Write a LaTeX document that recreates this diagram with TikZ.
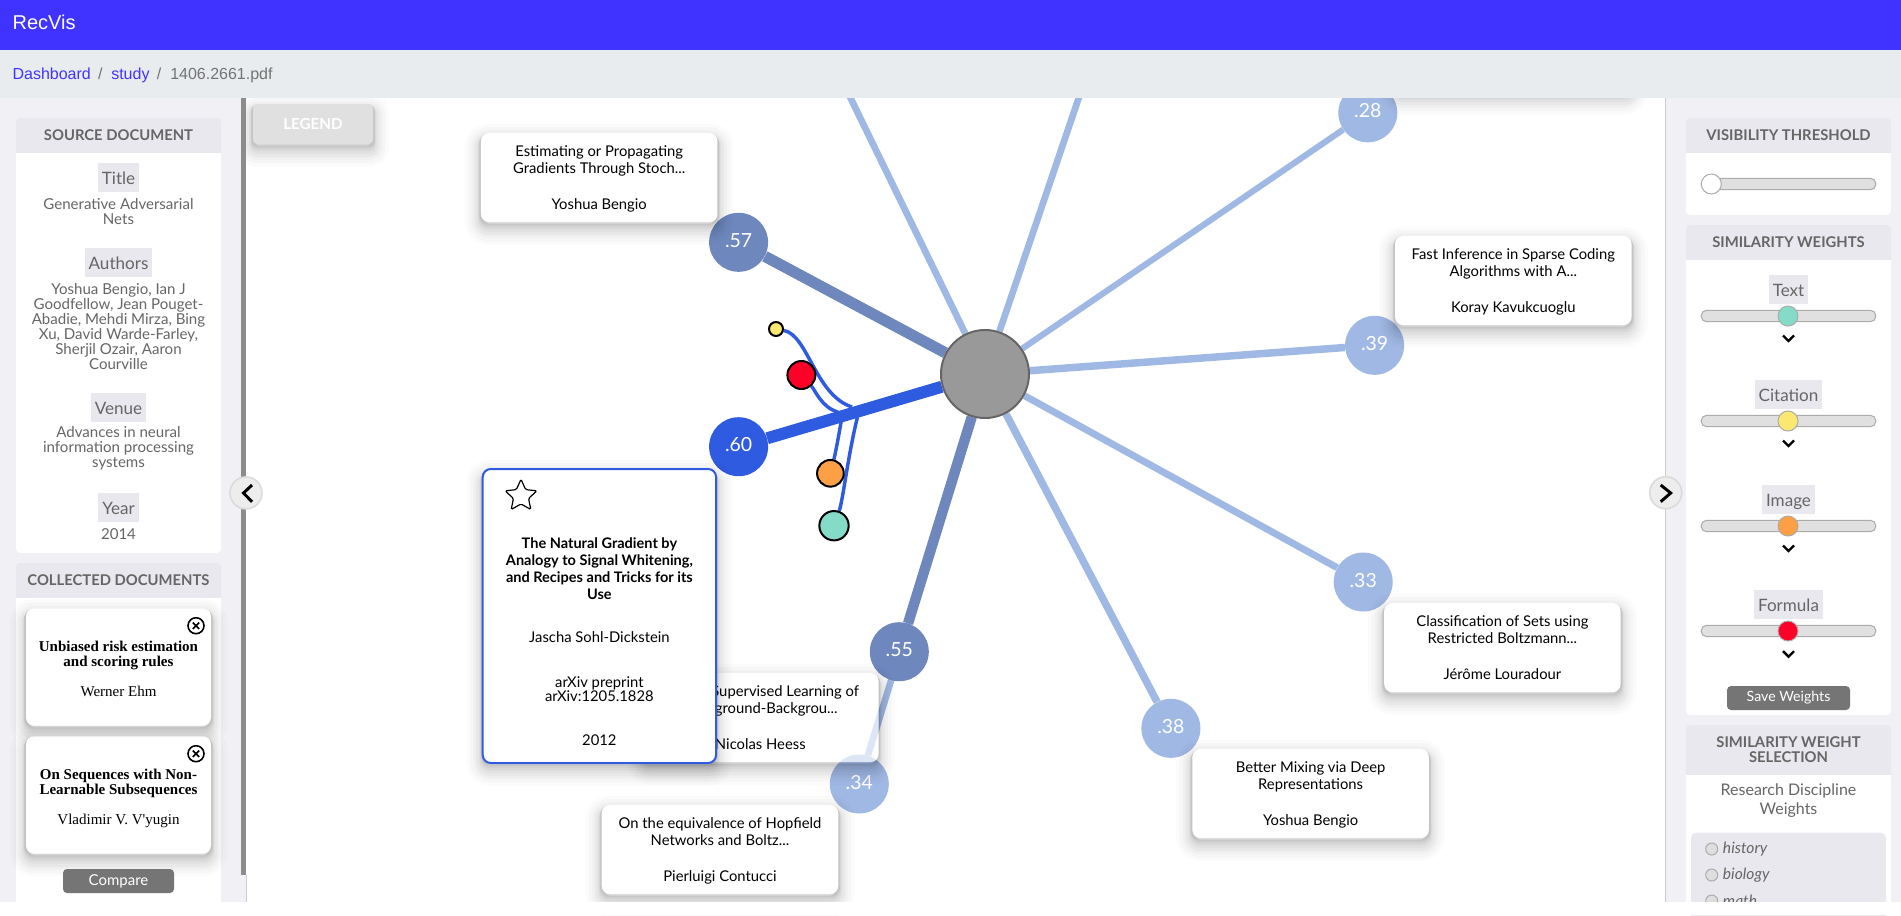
\documentclass[tikz,border=0pt]{standalone}
\usepackage{fontspec}
\setmainfont{Lato}
\newfontfamily\arialfont{Liberation Sans}
\newfontfamily\timesfont{Liberation Serif}
\usetikzlibrary{shapes.geometric,backgrounds}

\definecolor{barblue}{HTML}{4033FF}
\definecolor{crumbgray}{HTML}{E9ECEF}
\definecolor{panelgray}{HTML}{F0F0F5}
\definecolor{boxgray}{HTML}{E8E8EE}
\definecolor{inkgray}{HTML}{666666}
\definecolor{lightedge}{HTML}{A0B8E4}
\definecolor{midedge}{HTML}{6E88BE}
\definecolor{strongedge}{HTML}{2F5BE0}
\definecolor{tealdot}{HTML}{84DCC8}
\definecolor{yellowdot}{HTML}{FBE870}
\definecolor{orangedot}{HTML}{FD9F45}
\definecolor{reddot}{HTML}{FF0028}

\newcommand{\cardlines}[3]{\rule{0pt}{11.6pt}#1\\#2\\[14.25pt]#3\rule[-3pt]{0pt}{3pt}}

\tikzset{
  softshadow/.style={
    preaction={draw=black,draw opacity=.015,line width=24pt,transform canvas={yshift=-5pt}},
    preaction={draw=black,draw opacity=.02,line width=19pt,transform canvas={yshift=-5pt}},
    preaction={draw=black,draw opacity=.025,line width=14pt,transform canvas={yshift=-5pt}},
    preaction={draw=black,draw opacity=.03,line width=10pt,transform canvas={yshift=-5pt}},
    preaction={draw=black,draw opacity=.03,line width=6pt,transform canvas={yshift=-4.5pt}},
    preaction={draw=black,draw opacity=.04,line width=4pt,transform canvas={yshift=-3.5pt}},
    preaction={draw=black,draw opacity=.05,line width=3pt,transform canvas={yshift=-2pt}},
    preaction={draw=black,draw opacity=.05,line width=2pt,transform canvas={yshift=-1pt}}},
  card/.style={rectangle,rounded corners=6pt,fill=white,softshadow,minimum width=177.4pt,minimum height=66.75pt,inner sep=0pt,align=center,text=black,font=\fontsize{11.1pt}{12.75pt}\selectfont},
  score/.style={circle,minimum size=44.25pt,inner sep=0pt,text=white,text depth=3pt,font=\fontsize{14.6pt}{14.6pt}\selectfont},
  weightdot/.style={circle,draw=black,line width=1.5pt,inner sep=0pt},
  thin edge/.style={line width=5pt,lightedge},
  glyph edge/.style={line width=2.6pt,strongedge},
  panelcard/.style={rectangle,rounded corners=3pt,fill=white,minimum width=153.75pt,inner sep=0pt},
  headtext/.style={inner sep=0pt,align=center,text=inkgray,font=\fontsize{11.1pt}{11.25pt}\selectfont\bfseries},
  fieldlabel/.style={rectangle,fill=boxgray,inner xsep=3pt,inner ysep=0pt,minimum height=21.75pt,text height=11pt,text depth=.8pt,text=inkgray,font=\fontsize{12.8pt}{12.8pt}\selectfont},
  fieldtext/.style={inner sep=0pt,align=center,text=inkgray,font=\fontsize{11.3pt}{11.25pt}\selectfont},
  cardtext/.style={inner sep=0pt,font=\fontsize{11.1pt}{12.75pt}\selectfont},
  serifbold/.style={inner sep=0pt,align=center,font=\timesfont\fontsize{11.25pt}{11.25pt}\selectfont\bfseries},
  seriftext/.style={inner sep=0pt,font=\timesfont\fontsize{11.25pt}{11.25pt}\selectfont},
  crumbtext/.style={inner sep=0pt,text height=11pt,text depth=2.4pt,font=\arialfont\fontsize{12pt}{12pt}\selectfont},
  track/.style={rectangle,rounded corners=4pt,fill=black!12,draw=black!33,line width=.75pt,minimum width=131pt,minimum height=8.5pt,inner sep=0pt},
  knob/.style={circle,draw=black!33,line width=.75pt,minimum size=15pt,inner sep=0pt},
  graybtn/.style={rectangle,rounded corners=3pt,fill=black!54,inner sep=0pt,text=white},
  roundbtn/.style={circle,fill=black!7,draw=black!14,line width=1.2pt,minimum size=24pt,inner sep=0pt},
  radio/.style={circle,fill=black!13,draw=black!33,line width=.75pt,minimum size=9pt,inner sep=0pt},
  radiotext/.style={anchor=west,inner sep=0pt,text=inkgray,font=\fontsize{11.7pt}{11.7pt}\selectfont\itshape},
  chevdown/.pic={\draw[line width=1.8pt] (-5.5,-2.5) -- (0,3) -- (5.5,-2.5);},
  closeicon/.pic={\draw[line width=1.2pt] (0,0) circle (8);
    \draw[line width=1.2pt] (-3.2,-3.2) -- (3.2,3.2) (-3.2,3.2) -- (3.2,-3.2);},
}

\begin{document}
\begin{tikzpicture}[x=.75pt,y=-.75pt]
\useasboundingbox (0,0) rectangle (1901,915);

% Graph: hub and score circles
\node[circle,fill=black!40,draw=inkgray,line width=1.5pt,minimum size=66pt,inner sep=0pt] (hub) at (985,374) {};
\node[score,fill=midedge] (n57) at (738.6,242.3) {.57};
\node[score,fill=strongedge] (n60) at (738.6,446.7) {.60};
\node[score,fill=midedge] (n55) at (899.3,651.7) {.55};
\node[score,fill=lightedge] (n34) at (859.3,784) {.34};
\node[score,fill=lightedge] (n28) at (1367.8,112.8) {.28};
\node[score,fill=lightedge] (n39) at (1374.6,345.3) {.39};
\node[score,fill=lightedge] (n33) at (1363.2,582) {.33};
\node[score,fill=lightedge] (n38) at (1170.9,728.3) {.38};

% Small weight dots
\node[weightdot,fill=yellowdot,minimum size=10.5pt] (dotcite) at (776,329) {};
\node[weightdot,fill=reddot,minimum size=21pt] (dotform) at (801.4,375) {};
\node[weightdot,fill=orangedot,minimum size=20pt] (dotimg) at (830.4,473.3) {};
\node[weightdot,fill=tealdot,minimum size=22pt] (dottext) at (834,525.7) {};

\coordinate (topleft) at (832,60);    % goes under the breadcrumb bar
\coordinate (topright) at (1091.6,60);  % same
\coordinate (joincite) at (852,407);
\coordinate (joinform) at (838,412);
\coordinate (joinimg) at (841.4,420);
\coordinate (jointext) at (857.5,417);

% Edges sit behind the circles
\begin{scope}[on background layer]
\draw[thin edge] (hub) -- (topleft);
\draw[thin edge] (hub) -- (topright);
\draw[thin edge,line width=4.6pt] (hub) -- (n28);
\draw[thin edge,line width=5.6pt] (hub) -- (n39);
\draw[thin edge,line width=5.2pt] (hub) -- (n33);
\draw[thin edge,line width=5.6pt] (hub) -- (n38);
\draw[thin edge] (hub) -- (n34);
\draw[midedge,line width=8.4pt] (hub) -- (n57);
\draw[midedge,line width=7.8pt] (hub) -- (n55);
\draw[glyph edge] (dotcite) .. controls (808,335) and (815,395) .. (joincite);
\draw[glyph edge] (dotform) .. controls (815,390) and (822,408) .. (joinform);
\draw[glyph edge] (dotimg) .. controls (835,455) and (838,440) .. (joinimg);
\draw[glyph edge] (dottext) .. controls (843,500) and (848,455) .. (jointext);
\draw[strongedge,line width=9pt] (hub) -- (n60);
\end{scope}

% Document cards
\node[card] (cardtop) at (1513.5,47.5) {};
\node[card] (cardest) at (599.2,177.5) {\cardlines{Estimating or Propagating}{Gradients Through Stoch...}{Yoshua Bengio}};
\node[card] (cardfast) at (1513.3,280.5) {\cardlines{Fast Inference in Sparse Coding}{Algorithms with A...}{Koray Kavukcuoglu}};
\node[card] (cardclass) at (1502.4,647.5) {\cardlines{Classification of Sets using}{Restricted Boltzmann...}{Jérôme Louradour}};
\node[card] (cardmix) at (1310.6,793.5) {\cardlines{Better Mixing via Deep}{Representations}{Yoshua Bengio}};
\node[card] (cardhop) at (720,849.5) {\cardlines{On the equivalence of Hopfield}{Networks and Boltz...}{Pierluigi Contucci}};
\node[card] (cardheess) at (760.3,717.5) {};
\begin{scope}
\clip[rounded corners=6pt] (cardheess.north west) rectangle (cardheess.south east);
\draw[lightedge,opacity=.35,line width=5pt] (n55) -- (n34); % edge shows faintly through the card
\fill[lightedge,opacity=.35] (n34.center) circle (29.5);
\end{scope}
\node[cardtext,anchor=east] (heessa) at (859.3,692) {Supervised Learning of};
\node[cardtext,anchor=east] (heessb) at (837.9,709) {ground-Backgrou...};
\node[cardtext] (heessc) at (760.3,744) {Nicolas Heess};

% Selected card
\node[card,draw=strongedge,line width=1.5pt,minimum width=175pt,minimum height=220.5pt] (cardnat) at (599.4,616) {};
\node[star,star points=5,star point ratio=2.1,draw=black,line width=.9pt,rounded corners=1pt,minimum size=25pt,inner sep=0pt] (favstar) at (521,496) {};
\node[inner sep=0pt,align=center,font=\fontsize{10.9pt}{12.75pt}\selectfont\bfseries] (nattitle) at (599.4,568.8) {The Natural Gradient by\\Analogy to Signal Whitening,\\and Recipes and Tricks for its\\Use};
\node[cardtext] (natauthor) at (599.4,636.7) {Jascha Sohl-Dickstein};
\node[inner sep=0pt,align=center,font=\fontsize{11.1pt}{10.5pt}\selectfont] (natvenue) at (599.4,689) {arXiv preprint\\arXiv:1205.1828};
\node[cardtext] (natyear) at (599.4,739.7) {2012};

% Legend button
\node[rectangle,rounded corners=3pt,fill=black!12,softshadow,minimum width=90pt,minimum height=29.75pt,text=white,font=\fontsize{11.4pt}{11.4pt}\selectfont\bfseries] (legend) at (313,124) {LEGEND};

% Top bars
\fill[barblue] (0,0) rectangle (1901,50);
\fill[crumbgray] (0,50) rectangle (1901,98);
\node[anchor=west,inner sep=0pt,text=white,font=\arialfont\fontsize{15pt}{15pt}\selectfont] (brand) at (12.3,22) {RecVis};
\node[crumbtext,anchor=west,text=barblue] (crumbdash) at (12.3,73.3) {Dashboard};
\node[crumbtext,text=black!55] (crumbsepa) at (100.3,73.3) {/};
\node[crumbtext,anchor=west,text=barblue] (crumbstudy) at (111,73.3) {study};
\node[crumbtext,text=black!55] (crumbsepb) at (159,73.3) {/};
\node[crumbtext,anchor=west,text=black!55] (crumbfile) at (170,73.3) {1406.2661.pdf};

% Left panel
\fill[panelgray] (0,98) rectangle (241,902);
\fill[panelgray] (241,875) rectangle (246,902);
\fill[black!45] (241,98) rectangle (246,875);
\node[panelcard,minimum height=326.2pt] (srccard) at (118.5,335.4) {};
\fill[boxgray,rounded corners=3pt] (16,117.9) rectangle (221,165);
\fill[white] (16,152.9) rectangle (221,170);
\node[headtext] (srchead) at (118.5,135) {SOURCE DOCUMENT};
\node[fieldlabel] (ltitle) at (118.5,177.5) {Title};
\node[fieldtext] (vtitle) at (118.5,211.1) {Generative Adversarial\\Nets};
\node[fieldlabel] (lauth) at (118.5,262.5) {Authors};
\node[fieldtext] (vauth) at (118.5,326.1) {Yoshua Bengio, Ian J\\Goodfellow, Jean Pouget-\\Abadie, Mehdi Mirza, Bing\\Xu, David Warde-Farley,\\Sherjil Ozair, Aaron\\Courville};
\node[fieldlabel] (lvenue) at (118.5,407.5) {Venue};
\node[fieldtext] (vvenue) at (118.5,448.6) {Advances in neural\\information processing\\systems};
\node[fieldlabel] (lyear) at (118.5,507.5) {Year};
\node[fieldtext] (vyear) at (118.5,533.6) {2014};

\fill[boxgray,rounded corners=3pt] (16,563) rectangle (221,610);
\fill[white] (16,598) rectangle (221,902);
\node[headtext] (colhead) at (118.5,580) {COLLECTED DOCUMENTS};
\node[card,minimum width=138.75pt,minimum height=88pt] (colone) at (118.5,667) {};
\node[serifbold] (colonet) at (118.5,655.5) {Unbiased risk estimation\\and scoring rules};
\node[seriftext] (colonea) at (118.5,691) {Werner Ehm};
\pic at (196,625.7) {closeicon};
\node[card,minimum width=138.75pt,minimum height=88pt] (coltwo) at (118.5,795) {};
\node[serifbold] (coltwot) at (118.5,783.5) {On Sequences with Non-\\Learnable Subsequences};
\node[seriftext] (coltwoa) at (118.5,820.5) {Vladimir V. V'yugin};
\pic at (196,753.7) {closeicon};
\node[graybtn,minimum width=83.25pt,minimum height=18pt,font=\fontsize{11.25pt}{11.25pt}\selectfont] (compare) at (118.5,881) {Compare};

% Right panel
\fill[panelgray] (1665.5,98) rectangle (1901,902);
\draw[black!20,line width=.75pt] (1665.5,98) -- (1665.5,902);
\draw[black!20,line width=.75pt] (246.5,875) -- (246.5,902);

\fill[white,rounded corners=3pt] (1686,118) rectangle (1891,215);
\fill[boxgray,rounded corners=3pt] (1686,118) rectangle (1891,160);
\fill[white] (1686,153) rectangle (1891,170);
\node[headtext] (vishead) at (1788.5,135) {VISIBILITY THRESHOLD};
\node[track] (vistrack) at (1788.5,184) {};
\node[knob,fill=white] (visknob) at (1711.3,184) {};

\fill[white,rounded corners=3pt] (1686,225) rectangle (1891,715);
\fill[boxgray,rounded corners=3pt] (1686,225) rectangle (1891,270);
\fill[white] (1686,260) rectangle (1891,280);
\node[headtext] (simhead) at (1788.5,242.3) {SIMILARITY WEIGHTS};

\node[fieldlabel] (ltext) at (1788.5,289.5) {Text};
\node[track] (ttext) at (1788.5,316) {};
\node[knob,fill=tealdot] (ktext) at (1788,316) {};
\pic at (1788.5,338) {chevdown};

\node[fieldlabel] (lcite) at (1788.5,394.5) {Citation};
\node[track] (tcite) at (1788.5,421) {};
\node[knob,fill=yellowdot] (kcite) at (1788,421) {};
\pic at (1788.5,443) {chevdown};

\node[fieldlabel] (limg) at (1788.5,499.5) {Image};
\node[track] (timg) at (1788.5,526) {};
\node[knob,fill=orangedot] (kimg) at (1788,526) {};
\pic at (1788.5,548) {chevdown};

\node[fieldlabel] (lform) at (1788.5,604.5) {Formula};
\node[track] (tform) at (1788.5,631) {};
\node[knob,fill=reddot] (kform) at (1788,631) {};
\pic at (1788.5,653.7) {chevdown};

\node[graybtn,minimum width=92.25pt,minimum height=18pt,font=\fontsize{10.6pt}{10.6pt}\selectfont] (saveweights) at (1788.5,698) {Save Weights};

\fill[white,rounded corners=3pt] (1686,725) rectangle (1891,920);
\fill[boxgray,rounded corners=3pt] (1686,725) rectangle (1891,785);
\fill[white] (1686,775) rectangle (1891,795);
\node[headtext] (selhead) at (1788.5,749.8) {SIMILARITY WEIGHT\\SELECTION};
\node[inner sep=0pt,align=center,text=inkgray,font=\fontsize{12pt}{14.25pt}\selectfont] (selsub) at (1788.5,800.2) {Research Discipline\\Weights};
\fill[boxgray,rounded corners=4pt] (1691,832.7) rectangle (1886,930);
\node[radio] (rhist) at (1711.7,849) {};
\node[radiotext] (thist) at (1722.7,849) {history};
\node[radio] (rbio) at (1711.7,875) {};
\node[radiotext] (tbio) at (1722.7,875) {biology};
\node[radio] (rmath) at (1711.7,901) {};
\node[radiotext] (tmath) at (1722.7,901) {math};

% Page ends here
\fill[white] (0,902) rectangle (1901,915);

% Collapse buttons
\node[roundbtn] (btnleft) at (246,492.9) {};
\draw[line width=2.2pt] (252,485) -- (243.5,493) -- (252,501.8);
\node[roundbtn] (btnright) at (1665.7,492.7) {};
\draw[line width=2.2pt] (1660.7,485) -- (1670.7,493) -- (1660.7,501.7);

\end{tikzpicture}
\end{document}
